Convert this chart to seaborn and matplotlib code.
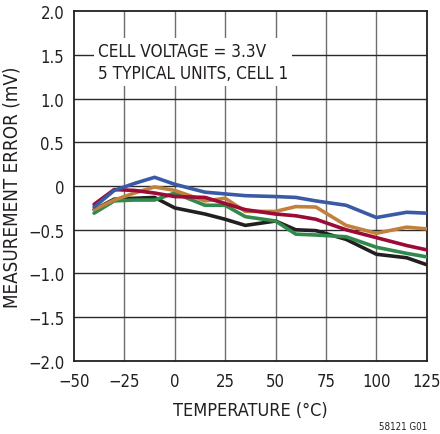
import seaborn as sns
import matplotlib.pyplot as plt
import pandas as pd

temps = [-40, -30, -20, -10, 0, 15, 25, 35, 50, 60, 70, 85, 100, 115, 125]
unit_blue = [-0.24, -0.05, 0.03, 0.10, 0.02, -0.07, -0.09, -0.11, -0.12, -0.13, -0.17, -0.22, -0.36, -0.30, -0.31]
unit_orange = [-0.27, -0.16, -0.08, -0.01, -0.05, -0.17, -0.14, -0.29, -0.29, -0.235, -0.24, -0.45, -0.54, -0.47, -0.49]
unit_red = [-0.21, -0.04, -0.05, -0.08, -0.12, -0.13, -0.20, -0.27, -0.32, -0.34, -0.38, -0.50, -0.59, -0.68, -0.73]
unit_green = [-0.31, -0.17, -0.16, -0.16, -0.08, -0.22, -0.22, -0.35, -0.40, -0.55, -0.56, -0.58, -0.70, -0.77, -0.81]
unit_black = [-0.27, -0.15, -0.14, -0.13, -0.25, -0.32, -0.38, -0.45, -0.40, -0.50, -0.51, -0.61, -0.78, -0.82, -0.90]

xticks = [-50, -25, 0, 25, 50, 75, 100, 125]
xtick_labels = ['\u221250', '\u221225', '0', '25', '50', '75', '100', '125']
yticks = [-2.0, -1.5, -1.0, -0.5, 0, 0.5, 1.0, 1.5, 2.0]
ytick_labels = ['\u22122.0', '\u22121.5', '\u22121.0', '\u22120.5', '0', '0.5', '1.0', '1.5', '2.0']

sns.set_style('white')
plt.rcParams['font.family'] = ['DejaVu Sans']
plt.rcParams['font.stretch'] = 'condensed'

series = {'black': unit_black, 'green': unit_green, 'orange': unit_orange,
          'red': unit_red, 'blue': unit_blue}
colors = {'black': '#231f20', 'green': '#2f8a4c', 'orange': '#c2803e',
          'red': '#9c0a36', 'blue': '#3b5aa6'}
rows = []
for name, vals in series.items():
    for t, v in zip(temps, vals):
        rows.append({'temp': t, 'err': v, 'unit': name})
df = pd.DataFrame(rows)

fig = plt.figure(figsize=(4.4, 4.35), dpi=100)
ax = fig.add_axes([0.168, 0.168, 0.802, 0.804])

for xv in xticks[1:-1]:
    ax.axvline(xv, color='#6d6d6d', lw=1.0, zorder=1)
for yv in yticks[1:-1]:
    ax.axhline(yv, color='#2a2a2a', lw=1.0, zorder=1)

sns.lineplot(data=df, x='temp', y='err', hue='unit', palette=colors,
             hue_order=list(series.keys()), linewidth=2.6, legend=False,
             ax=ax, zorder=3)

ax.set_xlim(-50, 125)
ax.set_ylim(-2.0, 2.0)
ax.set_xticks(xticks)
ax.set_xticklabels(xtick_labels)
ax.set_yticks(yticks)
ax.set_yticklabels(ytick_labels)
ax.tick_params(axis='both', labelsize=12, length=0, colors='#231f20')
ax.tick_params(axis='x', pad=8)
ax.tick_params(axis='y', pad=7)
for sp in ax.spines.values():
    sp.set_linewidth(1.3)
    sp.set_color('#231f20')

ax.set_xlabel('TEMPERATURE (\u00b0C)', fontsize=13, color='#231f20', labelpad=8)
ax.set_ylabel('MEASUREMENT ERROR (mV)', fontsize=13.5, color='#231f20', labelpad=5)

ax.text(-38.2, 1.42, 'CELL VOLTAGE = 3.3V\n5 TYPICAL UNITS, CELL 1', fontsize=12.3,
        color='#231f20', va='center', ha='left', linespacing=1.3, zorder=4,
        bbox=dict(facecolor='white', edgecolor='none', pad=3))

fig.text(0.972, 0.012, '58121 G01', fontsize=7, ha='right', color='#231f20')

fig.savefig('out.png', dpi=100)
